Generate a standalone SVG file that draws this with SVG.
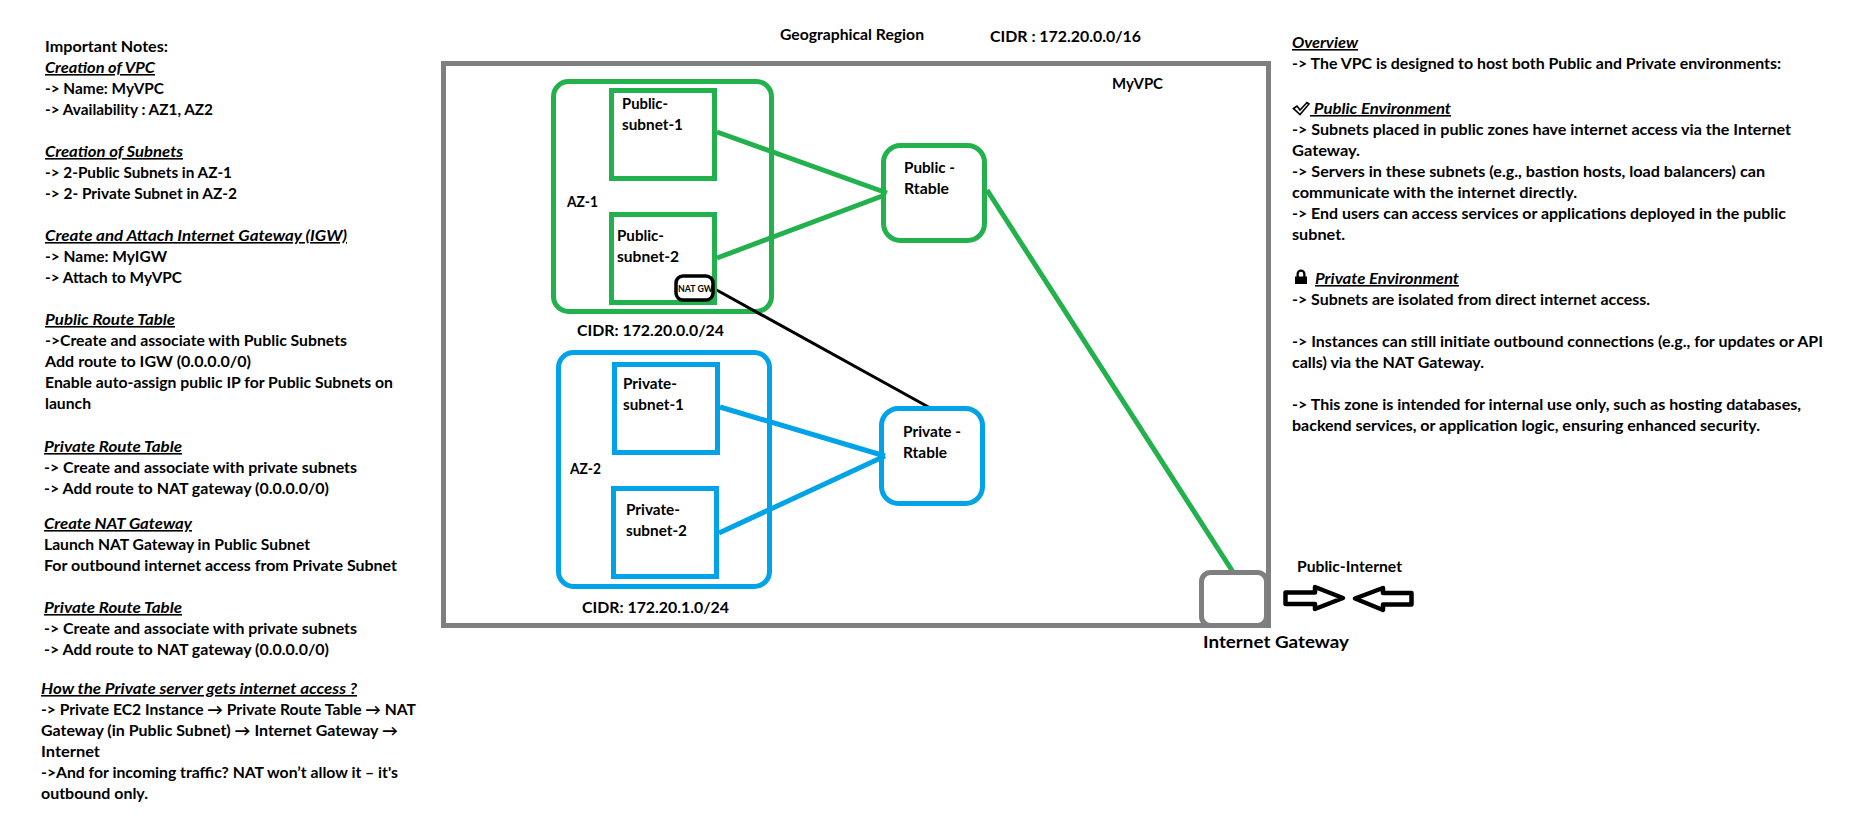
<svg xmlns="http://www.w3.org/2000/svg" width="1852" height="827" viewBox="0 0 1852 827">
<style>
text{font-family:"Lato","Liberation Sans",sans-serif;font-weight:700;font-size:15.200px;fill:#000}
.h{font-style:italic;text-decoration:underline;font-size:15.800px}
.box{fill:none;stroke-width:5}
.g{stroke:#22b14c}.b{stroke:#00a2e8}.k{stroke:#7f7f7f}
.c{fill:none;stroke-width:5}
</style>
<rect width="1852" height="827" fill="#fff"/>
<g id="vpc"><rect class="box k" x="443.5" y="63.5" width="825" height="562"/><text x="1112" y="89" textLength="51" lengthAdjust="spacingAndGlyphs">MyVPC</text></g>
<g id="az1"><rect class="box g" x="553.5" y="81.5" width="218" height="230" rx="15"/><text x="567" y="207" textLength="31" lengthAdjust="spacingAndGlyphs">AZ-1</text><text x="577" y="336" textLength="147" lengthAdjust="spacingAndGlyphs">CIDR: 172.20.0.0/24</text></g>
<g id="az2"><rect class="box b" x="558.5" y="352.5" width="211" height="234" rx="15"/><text x="570" y="474" textLength="31" lengthAdjust="spacingAndGlyphs">AZ-2</text><text x="582" y="613" textLength="147" lengthAdjust="spacingAndGlyphs">CIDR: 172.20.1.0/24</text></g>
<g id="connectors">
<path class="c g" d="M717 132L887 193M717 258L885 195M987 190L1233 572"/>
<path class="c b" d="M720 407L885 456M719 533L885 456"/>
<path fill="none" stroke="#000" stroke-width="3" d="M713 288L932 409"/>
</g>
<g id="public-subnet-1"><rect class="box g" x="611.5" y="90.5" width="103" height="88"/><text x="622" y="109" textLength="46" lengthAdjust="spacingAndGlyphs">Public-</text><text x="622" y="130" textLength="61" lengthAdjust="spacingAndGlyphs">subnet-1</text></g>
<g id="public-subnet-2"><rect class="box g" x="611.5" y="214.5" width="103" height="88"/><text x="617" y="241" textLength="47" lengthAdjust="spacingAndGlyphs">Public-</text><text x="617" y="262" textLength="62" lengthAdjust="spacingAndGlyphs">subnet-2</text></g>
<g id="nat-gw"><rect x="676" y="276" width="37" height="24" rx="7" fill="#fff" stroke="#000" stroke-width="3.5"/><text x="678" y="292" style="font-size:8.5px" textLength="35" lengthAdjust="spacingAndGlyphs">NAT GW</text></g>
<g id="private-subnet-1"><rect class="box b" x="614.5" y="364.5" width="103" height="88"/><text x="623" y="389" textLength="54" lengthAdjust="spacingAndGlyphs">Private-</text><text x="623" y="410" textLength="61" lengthAdjust="spacingAndGlyphs">subnet-1</text></g>
<g id="private-subnet-2"><rect class="box b" x="613.5" y="488.5" width="103" height="88"/><text x="626" y="515" textLength="54" lengthAdjust="spacingAndGlyphs">Private-</text><text x="626" y="536" textLength="61" lengthAdjust="spacingAndGlyphs">subnet-2</text></g>
<g id="public-rtable"><rect class="box g" x="883.5" y="145.5" width="101" height="95" rx="17"/><text x="904" y="173" textLength="51" lengthAdjust="spacingAndGlyphs">Public -</text><text x="904" y="194" textLength="45" lengthAdjust="spacingAndGlyphs">Rtable</text></g>
<g id="private-rtable"><rect class="box b" x="881.5" y="408.5" width="101" height="95" rx="17"/><text x="903" y="437" textLength="58" lengthAdjust="spacingAndGlyphs">Private -</text><text x="903" y="458" textLength="44" lengthAdjust="spacingAndGlyphs">Rtable</text></g>
<g id="igw"><rect class="box k" x="1201.5" y="572.5" width="65" height="53" rx="9"/><text x="1203" y="648" style="font-size:17.500px" textLength="146" lengthAdjust="spacingAndGlyphs">Internet Gateway</text></g>
<g id="internet"><text x="1297" y="572" textLength="105" lengthAdjust="spacingAndGlyphs">Public-Internet</text>
<path fill="none" stroke="#000" stroke-width="4.5" stroke-linejoin="round" d="M1285.500 592.500H1315V587L1343 598L1315 609V604H1285.500ZM1411.500 593H1383V588L1355 598.500L1383 610V604.500H1411.500Z"/></g>
<g id="titles"><text x="780" y="40" textLength="144" lengthAdjust="spacingAndGlyphs">Geographical Region</text><text x="990" y="42" textLength="151" lengthAdjust="spacingAndGlyphs">CIDR : 172.20.0.0/16</text></g>
<g id="notes-left">
<text x="45" y="52" textLength="123" lengthAdjust="spacingAndGlyphs">Important Notes:</text>
<text x="45" y="73" class="h" textLength="110" lengthAdjust="spacingAndGlyphs">Creation of VPC</text>
<text x="45" y="94" textLength="119" lengthAdjust="spacingAndGlyphs">-&gt; Name: MyVPC</text>
<text x="45" y="115" textLength="168" lengthAdjust="spacingAndGlyphs">-&gt; Availability : AZ1, AZ2</text>
<text x="45" y="157" class="h" textLength="138" lengthAdjust="spacingAndGlyphs">Creation of Subnets</text>
<text x="45" y="178" textLength="187" lengthAdjust="spacingAndGlyphs">-&gt; 2-Public Subnets in AZ-1</text>
<text x="45" y="199" textLength="192" lengthAdjust="spacingAndGlyphs">-&gt; 2- Private Subnet in AZ-2</text>
<text x="45" y="241" class="h" textLength="302" lengthAdjust="spacingAndGlyphs">Create and Attach Internet Gateway (IGW)</text>
<text x="45" y="262" textLength="122" lengthAdjust="spacingAndGlyphs">-&gt; Name: MyIGW</text>
<text x="45" y="283" textLength="137" lengthAdjust="spacingAndGlyphs">-&gt; Attach to MyVPC</text>
<text x="45" y="325" class="h" textLength="130" lengthAdjust="spacingAndGlyphs">Public Route Table</text>
<text x="45" y="346" textLength="302" lengthAdjust="spacingAndGlyphs">-&gt;Create and associate with Public Subnets</text>
<text x="45" y="367" textLength="206" lengthAdjust="spacingAndGlyphs">Add route to IGW (0.0.0.0/0)</text>
<text x="45" y="388" textLength="348" lengthAdjust="spacingAndGlyphs">Enable auto-assign public IP for Public Subnets on</text>
<text x="45" y="409" textLength="46" lengthAdjust="spacingAndGlyphs">launch</text>
<text x="44" y="452" class="h" textLength="138" lengthAdjust="spacingAndGlyphs">Private Route Table</text>
<text x="44" y="473" textLength="313" lengthAdjust="spacingAndGlyphs">-&gt; Create and associate with private subnets</text>
<text x="44" y="494" textLength="285" lengthAdjust="spacingAndGlyphs">-&gt; Add route to NAT gateway (0.0.0.0/0)</text>
<text x="44" y="529" class="h" textLength="148" lengthAdjust="spacingAndGlyphs">Create NAT Gateway</text>
<text x="44" y="550" textLength="266" lengthAdjust="spacingAndGlyphs">Launch NAT Gateway in Public Subnet</text>
<text x="44" y="571" textLength="353" lengthAdjust="spacingAndGlyphs">For outbound internet access from Private Subnet</text>
<text x="44" y="613" class="h" textLength="138" lengthAdjust="spacingAndGlyphs">Private Route Table</text>
<text x="44" y="634" textLength="313" lengthAdjust="spacingAndGlyphs">-&gt; Create and associate with private subnets</text>
<text x="44" y="655" textLength="285" lengthAdjust="spacingAndGlyphs">-&gt; Add route to NAT gateway (0.0.0.0/0)</text>
<text x="41" y="694" class="h" textLength="316" lengthAdjust="spacingAndGlyphs">How the Private server gets internet access ?</text>
<text x="41" y="715" textLength="375" lengthAdjust="spacingAndGlyphs">-&gt; Private EC2 Instance → Private Route Table → NAT</text>
<text x="41" y="736" textLength="357" lengthAdjust="spacingAndGlyphs">Gateway (in Public Subnet) → Internet Gateway →</text>
<text x="41" y="757" textLength="59" lengthAdjust="spacingAndGlyphs">Internet</text>
<text x="41" y="778" textLength="357" lengthAdjust="spacingAndGlyphs">-&gt;And for incoming traffic? NAT won’t allow it – it's</text>
<text x="41" y="799" textLength="107" lengthAdjust="spacingAndGlyphs">outbound only.</text>
</g>
<g id="notes-right">
<text x="1292" y="48" class="h" textLength="66" lengthAdjust="spacingAndGlyphs">Overview</text>
<text x="1292" y="69" textLength="489" lengthAdjust="spacingAndGlyphs">-&gt; The VPC is designed to host both Public and Private environments:</text>
<path fill="none" stroke="#000" stroke-width="1.600" d="M1293.500 108.500L1297 106L1300 110L1307 102.500L1309 104L1300 114.500Z"/>
<text x="1310" y="114" class="h" xml:space="preserve" textLength="141" lengthAdjust="spacingAndGlyphs"> Public Environment</text>
<text x="1292" y="135" textLength="499" lengthAdjust="spacingAndGlyphs">-&gt; Subnets placed in public zones have internet access via the Internet</text>
<text x="1292" y="156" textLength="68" lengthAdjust="spacingAndGlyphs">Gateway.</text>
<text x="1292" y="177" textLength="473" lengthAdjust="spacingAndGlyphs">-&gt; Servers in these subnets (e.g., bastion hosts, load balancers) can</text>
<text x="1292" y="198" textLength="285" lengthAdjust="spacingAndGlyphs">communicate with the internet directly.</text>
<text x="1292" y="219" textLength="494" lengthAdjust="spacingAndGlyphs">-&gt; End users can access services or applications deployed in the public</text>
<text x="1292" y="240" textLength="53" lengthAdjust="spacingAndGlyphs">subnet.</text>
<path fill="#000" d="M1295 276.500h1.500v-2.500a4.500 4.500 0 0 1 9 0v2.500h1.500v7.500h-12ZM1298.800 276.500h4.400v-2.500a2.200 2.200 0 0 0-4.400 0Z" fill-rule="evenodd"/>
<text x="1315" y="284" class="h" textLength="144" lengthAdjust="spacingAndGlyphs">Private Environment</text>
<text x="1292" y="305" textLength="358" lengthAdjust="spacingAndGlyphs">-&gt; Subnets are isolated from direct internet access.</text>
<text x="1292" y="347" textLength="531" lengthAdjust="spacingAndGlyphs">-&gt; Instances can still initiate outbound connections (e.g., for updates or API</text>
<text x="1292" y="368" textLength="192" lengthAdjust="spacingAndGlyphs">calls) via the NAT Gateway.</text>
<text x="1292" y="410" textLength="509" lengthAdjust="spacingAndGlyphs">-&gt; This zone is intended for internal use only, such as hosting databases,</text>
<text x="1292" y="431" textLength="468" lengthAdjust="spacingAndGlyphs">backend services, or application logic, ensuring enhanced security.</text>
</g>
</svg>
